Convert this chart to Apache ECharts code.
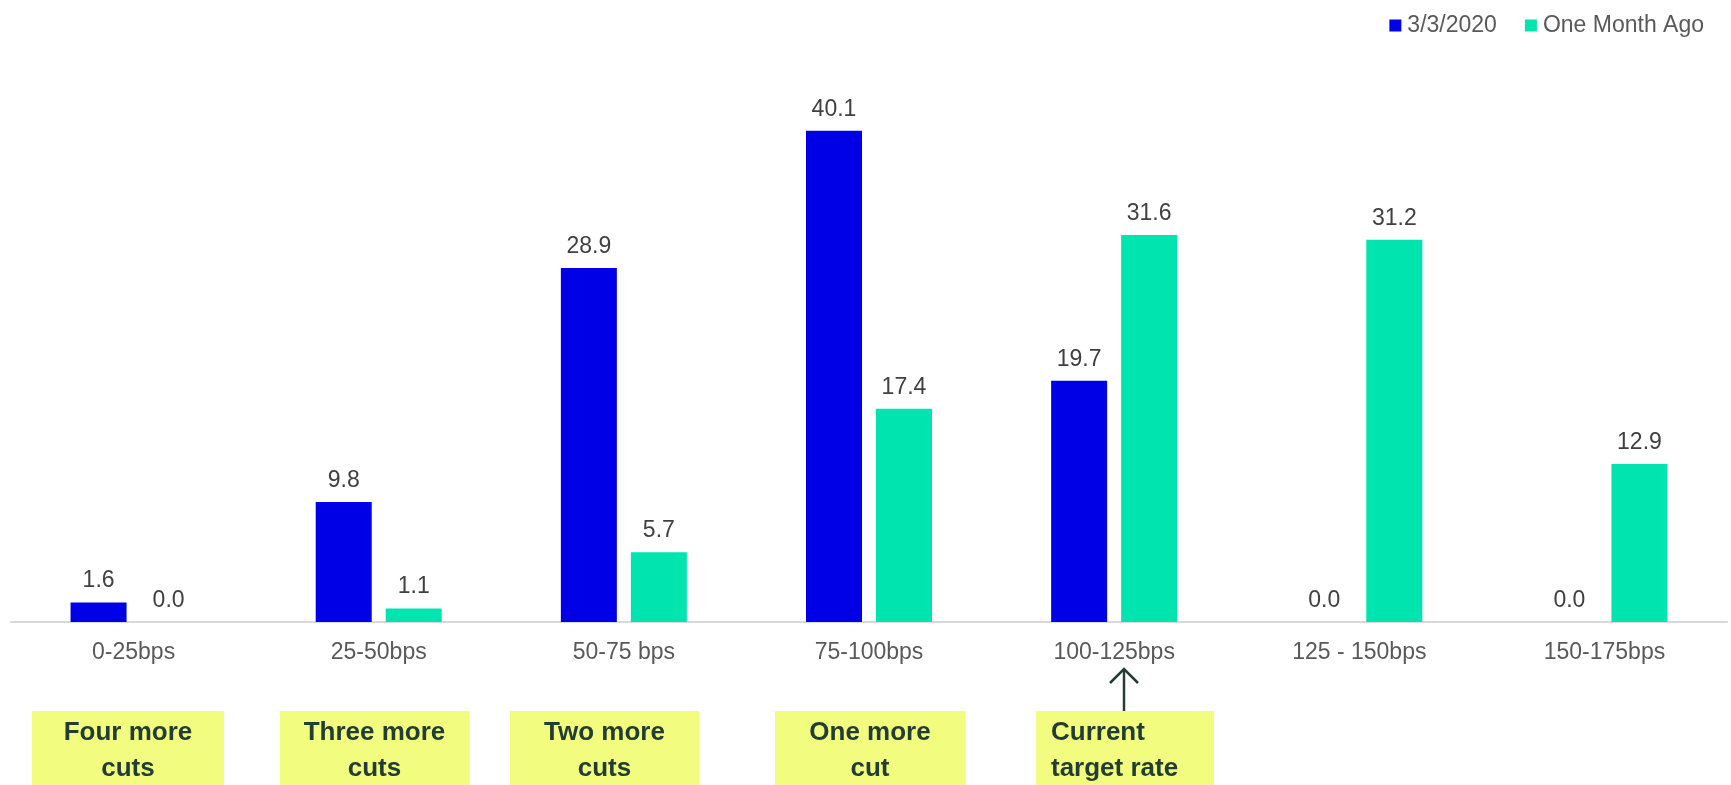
<!DOCTYPE html>
<html>
<head>
<meta charset="utf-8">
<script src="https://cdn.jsdelivr.net/npm/echarts@6/dist/echarts.min.js"></script>
<style>
  html, body { margin: 0; padding: 0; background: #fff; }
  #chart { width: 1731px; height: 785px; }
</style>
</head>
<body>
<div id="chart"></div>
<script>
// categories and values
const categories = ['0-25bps', '25-50bps', '50-75 bps', '75-100bps', '100-125bps', '125 - 150bps', '150-175bps'];
const todayValues = [1.6, 9.8, 28.9, 40.1, 19.7, 0.0, 0.0];
const monthAgoValues = [0.0, 1.1, 5.7, 17.4, 31.6, 31.2, 12.9];
const seriesNames = ['3/3/2020', 'One Month Ago'];
const noteTexts = ['Four more\ncuts', 'Three more\ncuts', 'Two more\ncuts', 'One more\ncut', 'Current\ntarget rate'];

const FONT = '"Liberation Sans", Arial, sans-serif';
const NOTE_INK = '#223D31';

// yellow note boxes under the axis
const noteBox = (x, w, txt, alignLeft) => ({
  type: 'group',
  children: [
    { type: 'rect', shape: { x: x, y: 711, width: w, height: 74 }, style: { fill: '#F2FD80' } },
    {
      type: 'text',
      x: alignLeft ? x + 15 : x + w / 2,
      y: 751,
      style: {
        text: txt,
        fill: NOTE_INK,
        font: 'bold 26px ' + FONT,
        align: alignLeft ? 'left' : 'center',
        verticalAlign: 'middle',
        lineHeight: 36
      }
    }
  ]
});

const valueLabel = {
  show: true,
  position: 'top',
  distance: 10,
  color: '#404040',
  fontSize: 23,
  fontFamily: FONT,
  formatter: p => p.value.toFixed(1)
};

const option = {
  animation: false,
  color: ['#0000E6', '#00E5AF'],
  legend: {
    data: seriesNames,
    right: 22,
    top: 9,
    icon: 'rect',
    itemWidth: 12,
    itemHeight: 12,
    itemGap: 28,
    textStyle: { color: '#595959', fontSize: 23, fontFamily: FONT, padding: [0, 0, 0, 1] }
  },
  grid: { left: 11, right: 4, top: 9.5, bottom: 163 },
  xAxis: {
    type: 'category',
    data: categories,
    axisLine: { lineStyle: { color: '#D9D9D9', width: 2 } },
    axisTick: { show: false },
    axisLabel: { color: '#595959', fontSize: 23, fontFamily: FONT, margin: 19 }
  },
  yAxis: {
    type: 'value',
    min: 0,
    max: 50,
    show: false,
    splitLine: { show: false }
  },
  series: [
    {
      name: seriesNames[0],
      type: 'bar',
      data: todayValues,
      barWidth: 56,
      barGap: '25%',
      label: valueLabel
    },
    {
      name: seriesNames[1],
      type: 'bar',
      data: monthAgoValues,
      barWidth: 56,
      label: valueLabel
    }
  ],
  graphic: [
    noteBox(32, 192, noteTexts[0]),
    noteBox(280, 189, noteTexts[1]),
    noteBox(510, 189, noteTexts[2]),
    noteBox(775, 190, noteTexts[3]),
    noteBox(1036, 178, noteTexts[4], true),
    // arrow pointing at the current target rate
    {
      type: 'polyline',
      shape: { points: [[1124, 711], [1124, 670]] },
      style: { stroke: NOTE_INK, lineWidth: 2.5 }
    },
    {
      type: 'polyline',
      shape: { points: [[1110, 683], [1124, 669], [1138, 683]] },
      style: { stroke: NOTE_INK, lineWidth: 2.5, fill: null }
    }
  ]
};

const myChart = echarts.init(document.getElementById('chart'));
myChart.setOption(option);
</script>
</body>
</html>
